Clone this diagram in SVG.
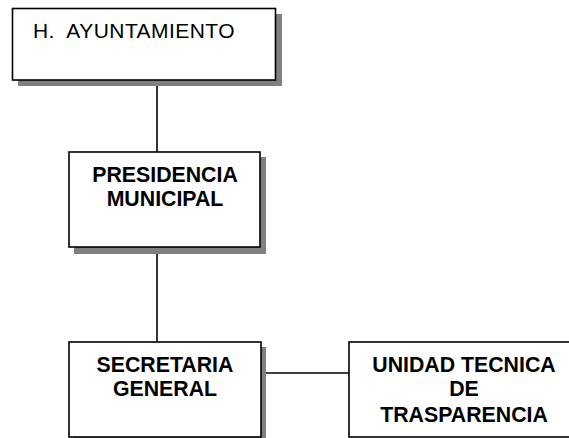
<svg xmlns="http://www.w3.org/2000/svg" width="569" height="438" viewBox="0 0 569 438">
<style>
.box{fill:#fff;stroke:#000;stroke-width:1.6}
.sh{fill:#808080}
.t{font-family:"Liberation Sans",Arial,sans-serif;font-size:21px;letter-spacing:0.45px;fill:#000;white-space:pre}
.b{font-family:"Liberation Sans",Arial,sans-serif;font-size:21.3px;font-weight:bold;fill:#000;text-anchor:middle}
.c{stroke:#000;stroke-width:1.6;fill:none}
</style>
<rect width="569" height="438" fill="#fff"/>
<g id="connectors">
<line class="c" x1="157" y1="80" x2="157" y2="152"/>
<line class="c" x1="157" y1="247" x2="157" y2="342"/>
<line class="c" x1="261" y1="373" x2="349" y2="373"/>
</g>
<g id="ayuntamiento">
<rect class="sh" x="18" y="14" width="264" height="72"/>
<rect class="box" x="12.5" y="8.5" width="263" height="71.5"/>
<text class="t" x="33" y="38" xml:space="preserve">H.  AYUNTAMIENTO</text>
</g>
<g id="presidencia">
<rect class="sh" x="74" y="157" width="192" height="97"/>
<rect class="box" x="69" y="152" width="191" height="95"/>
<text class="b" x="165" y="182">PRESIDENCIA</text>
<text class="b" x="165" y="206">MUNICIPAL</text>
</g>
<g id="secretaria">
<rect class="sh" x="74" y="347" width="192" height="97"/>
<rect class="box" x="69" y="342" width="192" height="95"/>
<text class="b" x="165" y="372">SECRETARIA</text>
<text class="b" x="165" y="396">GENERAL</text>
</g>
<g id="unidad">
<rect class="box" x="349" y="342" width="230" height="95"/>
<text class="b" x="464" y="372">UNIDAD TECNICA</text>
<text class="b" x="464" y="396">DE</text>
<text class="b" x="464" y="422">TRASPARENCIA</text>
</g>
</svg>
